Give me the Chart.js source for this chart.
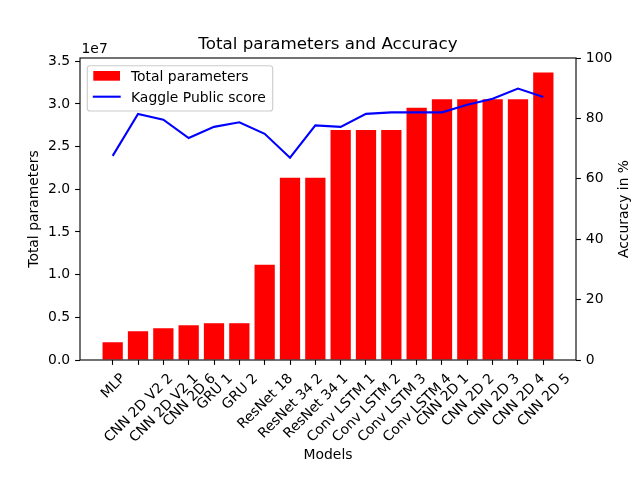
<!DOCTYPE html>
<html>
<head>
<meta charset="utf-8">
<script src="https://cdn.jsdelivr.net/npm/chart.js@4"></script>
<style>
  html, body { margin: 0; padding: 0; background: #fff; }
  #wrap { width: 640px; height: 480px; }
</style>
</head>
<body>
<div id="wrap"><canvas id="chart" width="640" height="480"></canvas></div>
<script>
// ===== DATA =====
const models = ['MLP', 'CNN 2D V2 2', 'CNN 2D V2 1', 'CNN 2D 6', 'GRU 1', 'GRU 2',
  'ResNet 18', 'ResNet 34 2', 'ResNet 34 1', 'Conv LSTM 1', 'Conv LSTM 2', 'Conv LSTM 3',
  'Conv LSTM 4', 'CNN 2D 1', 'CNN 2D 2', 'CNN 2D 3', 'CNN 2D 4', 'CNN 2D 5'];
const totalParams = [2080000, 3370000, 3720000, 4070000, 4310000, 4310000,
  11150000, 21350000, 21350000, 26950000, 26950000, 26950000,
  29550000, 30550000, 30550000, 30550000, 30550000, 33700000];
const kaggleScore = [67.6, 81.5, 79.6, 73.5, 77.2, 78.7, 74.9, 67.0, 77.7,
  77.2, 81.5, 82.0, 82.0, 82.0, 84.5, 86.5, 89.9, 87.1];
const paramTicks = [0, 5e6, 10e6, 15e6, 20e6, 25e6, 30e6, 35e6];
const accTicks = [0, 20, 40, 60, 80, 100];
const chartTitle = 'Total parameters and Accuracy';

// ===== STYLE =====
const FONT = 'DejaVu Sans';
const TICK_PX = 13.9;
const TICK_LEN = 4.9;
Chart.defaults.color = '#000';
Chart.defaults.font.family = FONT;
Chart.defaults.font.size = TICK_PX;

// matplotlib-ish x limits: 5% margin around bars of width 0.8
const barSpan = [-0.4, models.length - 1 + 0.4];
const xPad = (barSpan[1] - barSpan[0]) * 0.05;

// ===== PLUGIN: frame, title, x labels, offset text, right title, legend =====
const mplDecor = {
  id: 'mplDecor',
  afterDraw(chart) {
    const ctx = chart.ctx;
    const a = chart.chartArea;
    const xs = chart.scales.x;
    ctx.save();

    // spines
    ctx.strokeStyle = '#000';
    ctx.lineWidth = 1.1;
    ctx.strokeRect(a.left, a.top, a.right - a.left, a.bottom - a.top);

    // title, centred over the axes
    ctx.fillStyle = '#000';
    ctx.font = '16.7px "' + FONT + '"';
    ctx.textAlign = 'center';
    ctx.textBaseline = 'alphabetic';
    ctx.fillText(chartTitle, (a.left + a.right) / 2, a.top - 8.7);

    // rotated x labels, bbox centred under the tick (ha=center, rotation=45)
    ctx.font = TICK_PX + 'px "' + FONT + '"';
    const h = TICK_PX * 1.164;
    const desc = TICK_PX * 0.236;
    const topY = a.bottom + TICK_LEN + 4.9;
    models.forEach((m, i) => {
      const x = xs.getPixelForValue(i);
      const w = ctx.measureText(m).width;
      const H = (w + h) / Math.SQRT2;
      ctx.save();
      ctx.translate(x, topY + H / 2);
      ctx.rotate(-Math.PI / 4);
      ctx.textAlign = 'center';
      ctx.textBaseline = 'alphabetic';
      ctx.fillText(m, 0, h / 2 - desc);
      ctx.restore();
    });

    // offset text
    ctx.textAlign = 'left';
    ctx.textBaseline = 'alphabetic';
    ctx.fillText('1e7', a.left + 1.5, a.top - 5.3);

    // right axis title (reads bottom-to-top like matplotlib)
    ctx.save();
    ctx.translate(624, (a.top + a.bottom) / 2);
    ctx.rotate(-Math.PI / 2);
    ctx.textAlign = 'center';
    ctx.textBaseline = 'middle';
    ctx.fillText('Accuracy in %', 0, 0);
    ctx.restore();

    // legend
    const lx = a.left + 7.3, ly = a.top + 7.7, lw = 185.4, lh = 45.3, r = 2.8;
    ctx.beginPath();
    ctx.moveTo(lx + r, ly);
    ctx.arcTo(lx + lw, ly, lx + lw, ly + lh, r);
    ctx.arcTo(lx + lw, ly + lh, lx, ly + lh, r);
    ctx.arcTo(lx, ly + lh, lx, ly, r);
    ctx.arcTo(lx, ly, lx + lw, ly, r);
    ctx.closePath();
    ctx.fillStyle = 'rgba(255,255,255,0.8)';
    ctx.fill();
    ctx.strokeStyle = '#cccccc';
    ctx.lineWidth = 1.1;
    ctx.stroke();

    const bars = chart.data.datasets[1];
    const line = chart.data.datasets[0];
    ctx.fillStyle = bars.backgroundColor;
    ctx.fillRect(lx + 6, ly + 5.3, 26.7, 9.7);
    ctx.strokeStyle = line.borderColor;
    ctx.lineWidth = 2.1;
    ctx.beginPath();
    ctx.moveTo(lx + 5.5, ly + 31);
    ctx.lineTo(lx + 33.4, ly + 31);
    ctx.stroke();

    ctx.fillStyle = '#000';
    ctx.textAlign = 'left';
    ctx.textBaseline = 'alphabetic';
    ctx.fillText(bars.label, lx + 43.7, ly + 15.3);
    ctx.fillText(line.label, lx + 43.7, ly + 36);

    ctx.restore();
  }
};

// ===== CHART =====
new Chart(document.getElementById('chart'), {
  type: 'bar',
  data: {
    datasets: [
      {
        type: 'line',
        label: 'Kaggle Public score',
        data: kaggleScore.map((v, i) => ({ x: i, y: v })),
        yAxisID: 'y1',
        borderColor: '#0000ff',
        borderWidth: 2.1,
        pointRadius: 0,
        tension: 0,
        fill: false,
        order: 0
      },
      {
        type: 'bar',
        label: 'Total parameters',
        data: totalParams.map((v, i) => ({ x: i, y: v })),
        yAxisID: 'y',
        backgroundColor: '#ff0000',
        borderWidth: 0,
        categoryPercentage: 0.8,
        barPercentage: 1.0,
        order: 1
      }
    ]
  },
  options: {
    responsive: false,
    animation: false,
    devicePixelRatio: 1,
    layout: { padding: { top: 58, left: 0, right: 0, bottom: 0 } },
    plugins: {
      legend: { display: false },
      tooltip: { enabled: false },
      title: { display: false }
    },
    scales: {
      x: {
        type: 'linear',
        offset: false,
        min: barSpan[0] - xPad,
        max: barSpan[1] + xPad,
        afterBuildTicks: s => { s.ticks = models.map((m, i) => ({ value: i })); },
        ticks: { display: false },
        grid: { offset: false, drawOnChartArea: false, drawTicks: true, tickLength: TICK_LEN, tickWidth: 1.1, tickColor: '#000' },
        border: { display: false },
        title: { display: true, text: 'Models', font: { size: TICK_PX }, padding: { top: 0, bottom: 16.2 } },
        afterFit: s => { s.height = 120; }
      },
      y: {
        position: 'left',
        min: 0,
        max: Math.max(...totalParams) * 1.05,
        afterBuildTicks: s => { s.ticks = paramTicks.map(v => ({ value: v })); },
        ticks: { padding: 4.9, callback: v => (v / 1e7).toFixed(1) },
        grid: { drawOnChartArea: false, tickLength: TICK_LEN, tickWidth: 1.1, tickColor: '#000' },
        border: { display: false },
        title: { display: true, text: 'Total parameters', font: { size: TICK_PX }, padding: { top: 26, bottom: 0 } },
        afterFit: s => { s.width = 80; }
      },
      y1: {
        position: 'right',
        min: 0,
        max: 100,
        afterBuildTicks: s => { s.ticks = accTicks.map(v => ({ value: v })); },
        ticks: { padding: 4.9, callback: v => String(v) },
        grid: { drawOnChartArea: false, tickLength: TICK_LEN, tickWidth: 1.1, tickColor: '#000' },
        border: { display: false },
        afterFit: s => { s.width = 64; }
      }
    }
  },
  plugins: [mplDecor]
});
</script>
</body>
</html>
